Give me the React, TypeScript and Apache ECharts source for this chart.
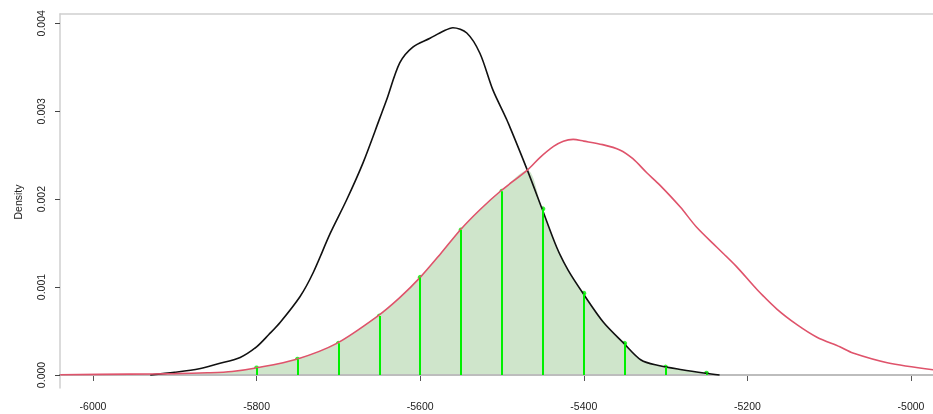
import { useEffect, useRef } from "react";
import * as echarts from "echarts";

const xTicks = [-6000, -5800, -5600, -5400, -5200, -5000];
const yTicks = [0, 0.001, 0.002, 0.003, 0.004];

const blackX = [-5930, -5900, -5870, -5848, -5820, -5800, -5785, -5771, -5747, -5731, -5710, -5690, -5670, -5649, -5641, -5625, -5609, -5588, -5572, -5560, -5543, -5527, -5511, -5494, -5469, -5451, -5433, -5419, -5401, -5376, -5351, -5330, -5310, -5280, -5251, -5234];
const blackY = [0, 0.00003, 0.00007, 0.000125, 0.0002, 0.00032, 0.00046, 0.0006, 0.00089, 0.00116, 0.00161, 0.00199, 0.00241, 0.00293, 0.00313, 0.00355, 0.00373, 0.00383, 0.00391, 0.00395, 0.00389, 0.00366, 0.00324, 0.0029, 0.00233, 0.00189, 0.00145, 0.00119, 0.00093, 0.0006, 0.00036, 0.00017, 0.00011, 0.00006, 0.00002, 0];

const redX = [-6040, -5955, -5900, -5860, -5830, -5801, -5751, -5702, -5652, -5625, -5600, -5575, -5551, -5527, -5502, -5469, -5454, -5437, -5425, -5413, -5400, -5377, -5356, -5340, -5323, -5307, -5282, -5262, -5237, -5213, -5188, -5164, -5139, -5115, -5087, -5071, -5029, -4973];
const redY = [0.000003, 0.00001, 0.000015, 0.000025, 0.00004, 0.00008, 0.00018, 0.00036, 0.00067, 0.00088, 0.00111, 0.00138, 0.00165, 0.00188, 0.00209, 0.00233, 0.00247, 0.0026, 0.00266, 0.00268, 0.00266, 0.00262, 0.00256, 0.00246, 0.0023, 0.00216, 0.00191, 0.00168, 0.00145, 0.00123, 0.00097, 0.00075, 0.00057, 0.00043, 0.00032, 0.00025, 0.00014, 0.00006];

const greenX = [-5800, -5750, -5700, -5650, -5600, -5550, -5500, -5450, -5400, -5350, -5300, -5250];
const greenTop = [0.00008, 0.00018, 0.00036, 0.00067, 0.00111, 0.00165, 0.00209, 0.00189, 0.00093, 0.00036, 0.00009, 0.00002];

const crossX = -5469;

export default function App() {
  const ref = useRef<HTMLDivElement>(null);
  useEffect(() => {
    const chart = echarts.init(ref.current!, null, { renderer: "svg" });
    const black = blackX.map((x, i) => [x, blackY[i]]);
    const red = redX.map((x, i) => [x, redY[i]]);
    const overlap = [
      [blackX[0], blackY[0]],
      ...red.filter((p) => p[0] > blackX[0] && p[0] <= crossX),
      ...black.filter((p) => p[0] > crossX),
    ];
    const green = greenX.map((x, i) => [x, greenTop[i]]);
    const font = "'Liberation Sans', Arial, sans-serif";
    const xMin = -6040.3;
    const xMax = -4973.1;
    const greenColor = "#00f000";
    const smooth = 0.3;
    chart.setOption({
      animation: false,
      textStyle: { fontFamily: font },
      grid: { left: 60, right: 0, top: 14, bottom: 26 },
      xAxis: [
        {
          type: "value",
          min: xMin,
          max: xMax,
          position: "bottom",
          axisLine: { show: true, lineStyle: { color: "#444", width: 1.5 } },
          axisTick: { show: true, length: 6, lineStyle: { color: "#555" }, customValues: xTicks },
          axisLabel: {
            show: true,
            customValues: xTicks,
            fontSize: 10.5,
            color: "#222",
            margin: 12,
            fontFamily: font,
            formatter: (v: number) => String(Math.round(v)),
          },
          splitLine: { show: false },
        },
        {
          type: "value",
          min: xMin,
          max: xMax,
          position: "top",
          axisLine: { show: true, lineStyle: { color: "#cfcfcf", width: 1.5 } },
          axisTick: { show: false },
          axisLabel: { show: false },
          splitLine: { show: false },
        },
      ],
      yAxis: {
        type: "value",
        min: -0.000148,
        max: 0.004106,
        axisLine: { show: true, lineStyle: { color: "#cfcfcf", width: 1.5 } },
        axisTick: { show: true, length: 5, lineStyle: { color: "#444" }, customValues: yTicks },
        axisLabel: {
          show: true,
          customValues: yTicks,
          rotate: 90,
          fontSize: 10.5,
          color: "#222",
          margin: 14,
          fontFamily: font,
          formatter: (v: number) => v.toFixed(3),
        },
        splitLine: { show: false },
      },
      graphic: [
        {
          type: "text",
          x: 17.5,
          y: 202,
          rotation: Math.PI / 2,
          style: { text: "Density", fontSize: 10.5, fill: "#222", align: "center", verticalAlign: "middle", fontFamily: font },
        },
      ],
      series: [
        {
          type: "line",
          data: [[xMin, 0], [xMax, 0]],
          symbol: "none",
          lineStyle: { color: "#bdbdbd", width: 2 },
          silent: true,
        },
        {
          type: "line",
          data: overlap,
          symbol: "none",
          smooth,
          lineStyle: { width: 0 },
          areaStyle: { color: "#cfe5cb", opacity: 1 },
          silent: true,
        },
        {
          type: "scatter",
          data: green,
          symbol: "circle",
          symbolSize: 5,
          itemStyle: { color: greenColor },
          silent: true,
          markLine: {
            silent: true,
            symbol: ["none", "none"],
            label: { show: false },
            lineStyle: { color: greenColor, width: 2, type: "solid" },
            emphasis: { disabled: true },
            data: green.map((p) => [{ coord: [p[0], 0] }, { coord: [p[0], p[1]] }]),
          },
        },
        {
          type: "line",
          data: black,
          symbol: "none",
          smooth,
          lineStyle: { color: "#111", width: 1.6 },
          silent: true,
        },
        {
          type: "line",
          data: red,
          symbol: "none",
          smooth,
          lineStyle: { color: "#DF536B", width: 1.6 },
          silent: true,
        },
      ],
    });
    return () => chart.dispose();
  }, []);
  return <div ref={ref} style={{ position: "fixed", left: 0, top: 0, width: 933, height: 414 }} />;
}
